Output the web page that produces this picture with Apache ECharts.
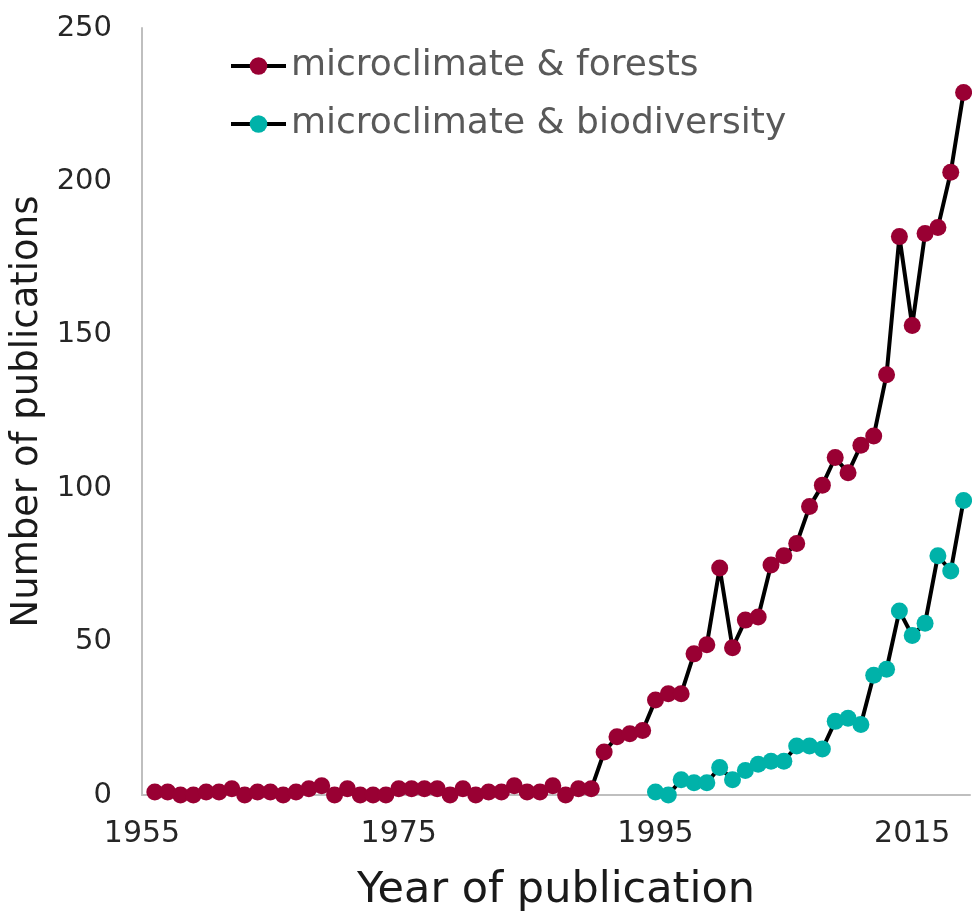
<!DOCTYPE html>
<html>
<head>
<meta charset="utf-8">
<script src="https://cdn.jsdelivr.net/npm/echarts@6/dist/echarts.min.js"></script>
<style>
  html, body { margin: 0; padding: 0; background: #fff; }
  #chart { width: 972px; height: 920px; }
</style>
</head>
<body>
<div id="chart"></div>
<script>
// years 1956..2019
var forestYears = [];
for (var y = 1956; y <= 2019; y++) forestYears.push(y);
var forestValues = [
  1, 1, 0, 0, 1, 1, 2, 0, 1, 1, 0, 1, 2, 3, 0, 2, 0, 0, 0, 2,
  2, 2, 2, 0, 2, 0, 1, 1, 3, 1, 1, 3, 0, 2, 2,
  14, 19, 20, 21, 31, 33, 33, 46, 49, 74, 48, 57, 58, 75, 78, 82, 94, 101, 110, 105,
  114, 117, 137, 182, 153, 183, 185, 203, 229
];
// years 1995..2019
var bioYears = [];
for (var y2 = 1995; y2 <= 2019; y2++) bioYears.push(y2);
var bioValues = [
  1, 0, 5, 4, 4, 9, 5, 8, 10, 11, 11, 16, 16, 15, 24, 25, 23, 39, 41, 60,
  52, 56, 78, 73, 96
];
var yTicks = [0, 50, 100, 150, 200, 250];

var font = "'Century Gothic', 'DejaVu Sans', sans-serif";

var chart = echarts.init(document.getElementById('chart'));
var option = {
  animation: false,
  grid: { left: 142, right: 2, top: 28, bottom: 125, outerBoundsMode: 'none', containLabel: false },
  legend: {
    orient: 'vertical',
    left: 224,
    top: 43,
    itemWidth: 55,
    itemHeight: 22,
    itemGap: 22,
    lineStyle: { width: 4 },
    textStyle: { fontFamily: font, fontSize: 36, color: '#595959', lineHeight: 36 },
    data: ['microclimate & forests', 'microclimate & biodiversity']
  },
  xAxis: {
    type: 'value',
    min: 1955,
    max: 2019.5,
    interval: 20,
    name: 'Year of publication',
    nameLocation: 'middle',
    nameGap: 74,
    nameTextStyle: { fontFamily: font, fontSize: 43, color: '#1a1a1a' },
    axisLine: { lineStyle: { color: '#BFBFBF', width: 2 } },
    axisTick: { show: false },
    splitLine: { show: false },
    axisLabel: {
      showMaxLabel: false,
      margin: 24,
      fontFamily: font, fontSize: 30, color: '#262626',
      formatter: function (v) { return String(v); }
    }
  },
  yAxis: {
    type: 'value',
    min: yTicks[0],
    max: yTicks[yTicks.length - 1],
    interval: 50,
    name: 'Number of publications',
    nameLocation: 'middle',
    nameGap: 93,
    nameTextStyle: { fontFamily: font, fontSize: 37, color: '#1a1a1a' },
    axisLine: { show: true, lineStyle: { color: '#BFBFBF', width: 2 } },
    axisTick: { show: false },
    splitLine: { show: false },
    axisLabel: { margin: 30, fontFamily: font, fontSize: 29, color: '#262626' }
  },
  series: [
    {
      name: 'microclimate & forests',
      type: 'line',
      data: forestYears.map(function (yr, i) { return [yr, forestValues[i]]; }),
      symbol: 'circle',
      symbolSize: 17,
      lineStyle: { color: '#000', width: 4 },
      itemStyle: { color: '#990033' }
    },
    {
      name: 'microclimate & biodiversity',
      type: 'line',
      data: bioYears.map(function (yr, i) { return [yr, bioValues[i]]; }),
      symbol: 'circle',
      symbolSize: 17,
      lineStyle: { color: '#000', width: 4 },
      itemStyle: { color: '#00B2A9' }
    }
  ]
};
chart.setOption(option);
</script>
</body>
</html>
